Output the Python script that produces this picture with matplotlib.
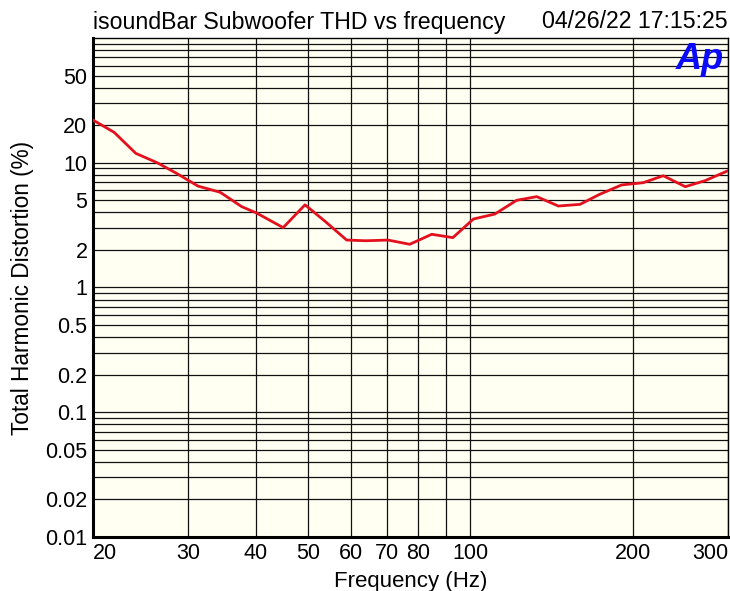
import numpy as np
import matplotlib
matplotlib.use("Agg")
import matplotlib.pyplot as plt
from matplotlib.ticker import FixedLocator, NullFormatter

# THD sweep, values
freq_hz = [20, 21.9, 24.0, 26.3, 28.6, 31.3, 34.4, 37.7, 40.2, 45.0, 49.4, 53.9,
           59.0, 64.0, 70.4, 77.2, 84.8, 92.8, 101.3, 111, 121.8, 132.7, 145.5,
           159.6, 173.5, 190.6, 209, 227.6, 250, 272, 300]
thd_pct = [22.0, 17.5, 11.9, 10.0, 8.2, 6.5, 5.8, 4.45, 3.95, 3.02, 4.6, 3.37,
           2.40, 2.37, 2.40, 2.22, 2.67, 2.51, 3.54, 3.88, 5.0, 5.35, 4.5,
           4.64, 5.58, 6.64, 6.92, 7.87, 6.43, 7.18, 8.63]

x_ticks = [20, 30, 40, 50, 60, 70, 80, 100, 200, 300]
x_minor = [90]
y_ticks = [0.01, 0.02, 0.05, 0.1, 0.2, 0.5, 1, 2, 5, 10, 20, 50]
y_tick_labels = ["0.01", "0.02", "0.05", "0.1", "0.2", "0.5", "1", "2", "5", "10", "20", "50"]

title = "isoundBar Subwoofer THD vs frequency"
stamp = "04/26/22 17:15:25"

plt.rcParams["font.family"] = ["Liberation Sans", "DejaVu Sans"]

fig = plt.figure(figsize=(7.3, 5.91), dpi=100)
ax = fig.add_axes([93 / 730, 1 - 537 / 591, 635 / 730, 499 / 591])
ax.set_facecolor("#fffff2")

ax.plot(freq_hz, thd_pct, color="#e3101e", lw=2.0, zorder=3)

ax.set_xscale("log")
ax.set_yscale("log")
ax.set_xlim(20, 300)
ax.set_ylim(0.01, 100)

ax.xaxis.set_major_locator(FixedLocator(x_ticks))
ax.xaxis.set_minor_locator(FixedLocator(x_minor))
ax.set_xticklabels([str(v) for v in x_ticks])
ax.xaxis.set_minor_formatter(NullFormatter())

ax.yaxis.set_major_locator(FixedLocator(y_ticks))
y_minor = [m * 10.0 ** e for e in range(-2, 2) for m in range(1, 10)]
ax.yaxis.set_minor_locator(FixedLocator(y_minor))
ax.set_yticklabels(y_tick_labels)
ax.yaxis.set_minor_formatter(NullFormatter())

ax.grid(which="both", color="#111111", lw=0.9)
ax.set_axisbelow(True)
ax.tick_params(which="both", length=0, labelsize=15.5)
ax.tick_params(axis="x", pad=4)
ax.tick_params(axis="y", pad=4)

xl = ax.get_xticklabels()
xl[0].set_ha("left")
xl[-1].set_ha("right")

for side in ["left", "bottom"]:
    ax.spines[side].set_linewidth(2.2)
for side in ["top", "right"]:
    ax.spines[side].set_linewidth(1.0)

ax.set_xlabel("Frequency (Hz)", fontsize=16, labelpad=5)
ax.set_ylabel("Total Harmonic Distortion (%)", fontsize=16.3, labelpad=8)

fig.text(93 / 730, 1 - 22 / 591, title, fontsize=16.7, ha="left", va="center")
fig.text(728 / 730, 1 - 22 / 591, stamp, fontsize=16.7, ha="right", va="center")

ax.text(0.993, 0.992, "Ap", transform=ax.transAxes, ha="right", va="top",
        fontsize=26, fontweight="bold", style="italic", color="#0a0aff")

fig.savefig("out.png", dpi=100)
